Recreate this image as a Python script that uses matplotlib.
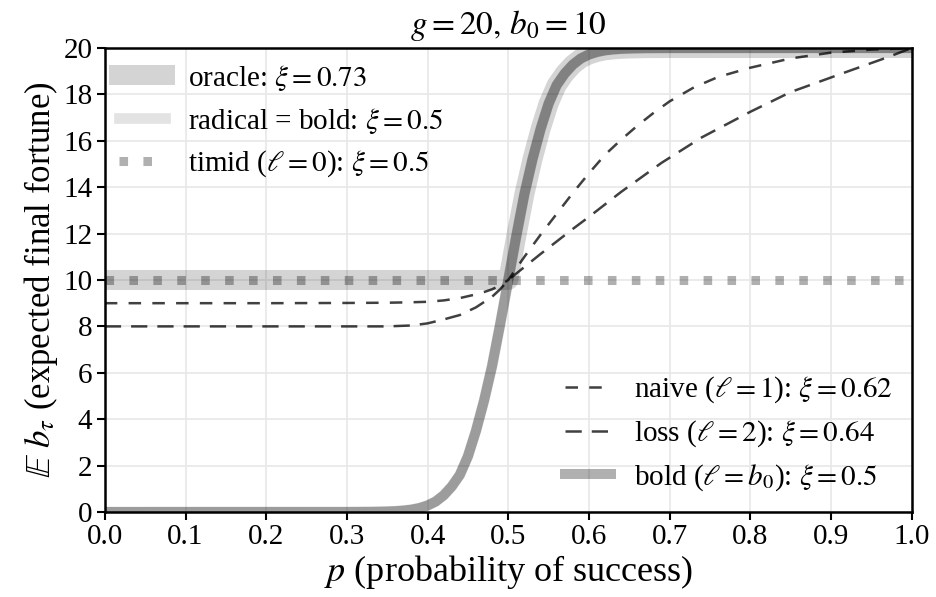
import numpy as np
import matplotlib
matplotlib.use("Agg")
import matplotlib.pyplot as plt

plt.rcParams['font.family'] = 'serif'
plt.rcParams['font.serif'] = ['Liberation Serif', 'DejaVu Serif']
plt.rcParams['mathtext.fontset'] = 'stix'

# values
bold_p = [0.0, 0.30, 0.33, 0.35, 0.36, 0.37, 0.38, 0.39, 0.40, 0.41, 0.42, 0.43,
          0.44, 0.45, 0.46, 0.47, 0.48, 0.49, 0.50, 0.51, 0.52, 0.53, 0.54,
          0.55, 0.56, 0.57, 0.58, 0.59, 0.60, 0.61, 0.62, 0.63, 0.64, 0.65,
          0.67, 0.70, 1.0]
bold_v = [0.0, 0.001, 0.006, 0.02, 0.035, 0.06, 0.1, 0.17, 0.28, 0.45, 0.72, 1.1,
          1.6, 2.4, 3.5, 4.8, 6.3, 8.1, 10.0, 11.9, 13.7, 15.2, 16.5,
          17.6, 18.4, 18.9, 19.28, 19.55, 19.72, 19.83, 19.9, 19.94, 19.965, 19.98,
          19.994, 19.999, 20.0]

oracle_p = [0.0, 0.50, 0.51, 0.52, 0.53, 0.54, 0.55, 0.56, 0.57, 0.58, 0.59,
            0.60, 0.61, 0.62, 0.63, 0.64, 0.65, 0.67, 0.70, 1.0]
oracle_v = [10.0, 10.0, 11.9, 13.7, 15.2, 16.5, 17.6, 18.4, 18.9, 19.28, 19.55,
            19.72, 19.83, 19.9, 19.94, 19.965, 19.98, 19.994, 19.999, 20.0]

timid_p = [0.0, 1.0]
timid_v = [10.0, 10.0]

naive_p = [0.0, 0.20, 0.30, 0.35, 0.38, 0.40, 0.42, 0.44, 0.46, 0.47, 0.48,
           0.49, 0.50, 0.52, 0.54, 0.56, 0.58, 0.60, 0.62, 0.64, 0.66, 0.68,
           0.70, 0.73, 0.76, 0.80, 0.85, 0.90, 0.95, 1.0]
naive_v = [9.0, 9.0, 9.01, 9.02, 9.04, 9.06, 9.12, 9.22, 9.38, 9.48, 9.6,
           9.77, 10.0, 11.0, 11.95, 12.85, 13.75, 14.6, 15.4, 16.05, 16.65, 17.2,
           17.7, 18.3, 18.75, 19.15, 19.55, 19.8, 19.93, 20.0]

loss_p = [0.0, 0.30, 0.35, 0.38, 0.40, 0.42, 0.44, 0.46, 0.48, 0.49,
          0.50, 0.52, 0.54, 0.56, 0.58, 0.60, 0.64, 0.69, 0.74, 0.80, 0.85,
          0.92, 0.97, 1.0]
loss_v = [8.0, 8.0, 8.0, 8.04, 8.13, 8.3, 8.49, 8.82, 9.28, 9.6,
          10.0, 10.56, 11.12, 11.66, 12.2, 12.72, 13.8, 15.05, 16.15, 17.25, 18.1,
          18.98, 19.6, 20.0]

fig = plt.figure(figsize=(9.36, 5.97), dpi=100)
ax = fig.add_axes([0.112, 0.1424, 0.862, 0.7772])

l_oracle, = ax.plot(oracle_p, oracle_v, color='k', alpha=0.17, lw=14.4,
                    label=r'oracle: $\xi=0.73$')
l_radical, = ax.plot(bold_p, bold_v, color='k', alpha=0.11, lw=7.7,
                     label=r'radical = bold: $\xi=0.5$')
l_timid, = ax.plot(timid_p, timid_v, color='k', alpha=0.31, lw=6.5,
                   linestyle=(0, (0.95, 1.7)), label=r'timid ($\ell=0$): $\xi=0.5$')
l_naive, = ax.plot(naive_p, naive_v, color='k', alpha=0.75, lw=1.8,
                   linestyle=(0, (5.0, 4.5)), label=r'naive ($\ell=1$): $\xi=0.62$')
l_loss, = ax.plot(loss_p, loss_v, color='k', alpha=0.75, lw=1.8,
                  linestyle=(0, (6.5, 4.0)), label=r'loss ($\ell=2$): $\xi=0.64$')
l_bold, = ax.plot(bold_p, bold_v, color='k', alpha=0.31, lw=7.2,
                  label=r'bold ($\ell=b_0$): $\xi=0.5$')

ax.set_xlim(0, 1)
ax.set_ylim(0, 20)
ax.set_xticks(np.arange(0, 1.01, 0.1))
ax.set_yticks(np.arange(0, 21, 2))
ax.set_xticklabels(['%.1f' % t for t in np.arange(0, 1.01, 0.1)])
ax.grid(True, color='#e8e8e8', lw=1.2)
ax.set_axisbelow(True)
ax.tick_params(labelsize=21, length=6, width=1.5, direction='out', pad=3)
for s in ax.spines.values():
    s.set_linewidth(1.8)

ax.set_xlabel(r'$p$ (probability of success)', fontsize=26, labelpad=2)
ax.set_ylabel(r'$\mathbb{E}\ b_\tau$ (expected final fortune)', fontsize=25, labelpad=2)
ax.set_title(r'$g=20,\, b_0=10$', fontsize=24, pad=10)

leg1 = ax.legend(handles=[l_oracle, l_radical, l_timid], loc='upper left',
                 frameon=False, fontsize=21, handlelength=1.55,
                 borderaxespad=0.1, labelspacing=0.45)
ax.add_artist(leg1)
ax.legend(handles=[l_naive, l_loss, l_bold], loc='lower right',
          frameon=False, fontsize=21, handlelength=1.55,
          borderaxespad=0.25, labelspacing=0.45)

fig.savefig('out.png', dpi=100)
